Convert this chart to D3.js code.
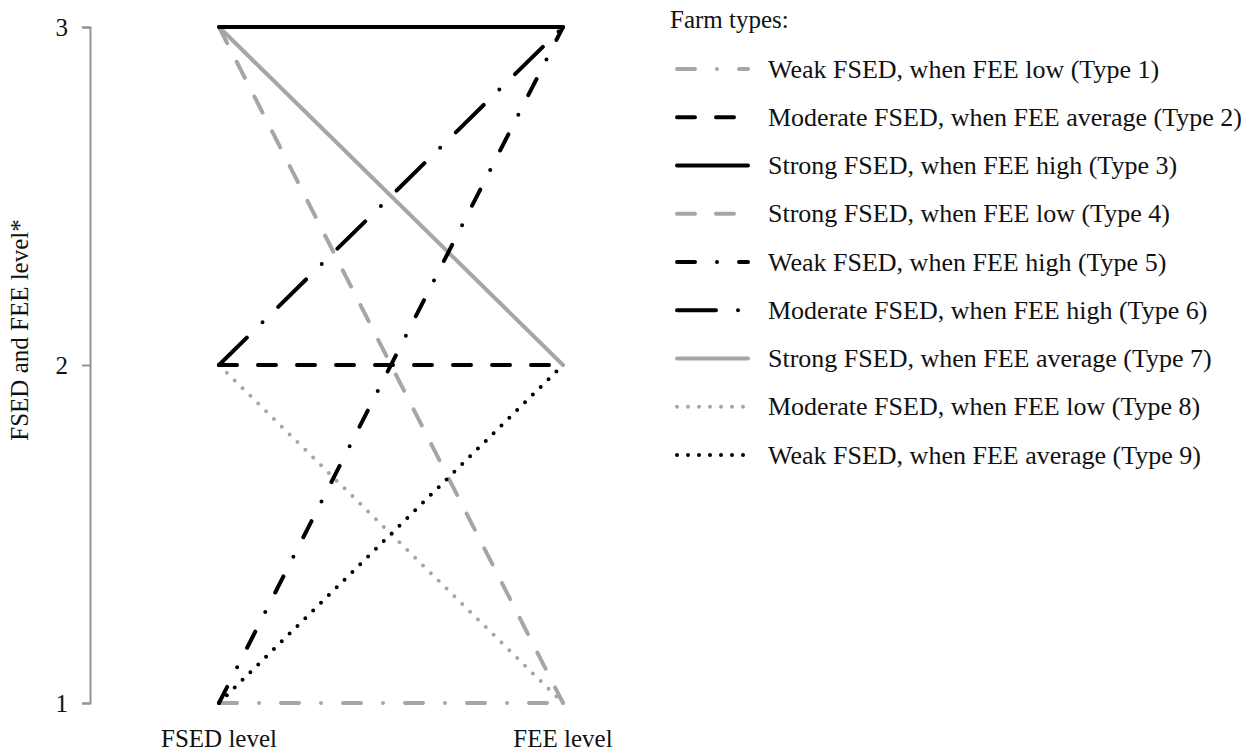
<!DOCTYPE html>
<html>
<head>
<meta charset="utf-8">
<script src="https://cdn.jsdelivr.net/npm/d3@7"></script>
<style>
  body { margin: 0; background: #fff; }
  text { font-family: "Liberation Serif", "DejaVu Serif", serif; fill: #111; }
</style>
</head>
<body>
<svg id="chart" width="1253" height="753"></svg>
<script>
// data
var typeNames = [
  "Weak FSED, when FEE low (Type 1)",
  "Moderate FSED, when FEE average (Type 2)",
  "Strong FSED, when FEE high (Type 3)",
  "Strong FSED, when FEE low (Type 4)",
  "Weak FSED, when FEE high (Type 5)",
  "Moderate FSED, when FEE high (Type 6)",
  "Strong FSED, when FEE average (Type 7)",
  "Moderate FSED, when FEE low (Type 8)",
  "Weak FSED, when FEE average (Type 9)"
];
var fsedLevel = [1, 2, 3, 3, 1, 2, 3, 2, 1];
var feeLevel  = [1, 2, 3, 1, 3, 3, 2, 1, 2];
var axisNames = ["FSED level", "FEE level"];
var yTicks = [1, 2, 3];

// styles per type
var gray = "#a6a6a6", black = "#000";
var lineColor = [gray, black, black, gray, black, black, gray, gray, black];
var lineDash = ["18,22,0,22", "18,21", null, "18,21", "18,22,0,22", "39,22,0,22", null, "0,11", "0,11"];

var svg = d3.select("#chart");

var x = d3.scalePoint().domain(axisNames).range([219, 563]);
var y = d3.scaleLinear().domain([1, 3]).range([703, 27]);

// y axis
var yAxis = svg.append("g")
    .attr("transform", "translate(90,0)")
    .call(d3.axisLeft(y).tickValues(yTicks).tickFormat(d3.format("d")).tickSize(8).tickPadding(14));
yAxis.selectAll("path, line").attr("stroke", "#929292").attr("stroke-width", 2);
yAxis.selectAll("text").style("font-size", "25px").attr("font-family", null).attr("fill", "#111");

svg.append("text")
    .attr("transform", "translate(28,330) rotate(-90)")
    .attr("text-anchor", "middle")
    .style("font-size", "25px")
    .text("FSED and FEE level*");

// category labels
svg.selectAll(".xlab")
  .data(axisNames)
  .enter().append("text")
    .attr("class", "xlab")
    .attr("x", function(d) { return x(d); })
    .attr("y", 747)
    .attr("text-anchor", "middle")
    .style("font-size", "25px")
    .text(function(d) { return d; });

// lines
var rows = typeNames.map(function(name, i) {
  return {name: name, a: fsedLevel[i], b: feeLevel[i], i: i};
});

var drawOrder = [6, 3, 7, 0, 8, 4, 5, 1, 2];
svg.append("g").selectAll("line")
  .data(drawOrder.map(function(k) { return rows[k]; }))
  .enter().append("line")
    .attr("x1", x(axisNames[0]))
    .attr("x2", x(axisNames[1]))
    .attr("y1", function(d) { return y(d.a); })
    .attr("y2", function(d) { return y(d.b); })
    .attr("stroke", function(d) { return lineColor[d.i]; })
    .attr("stroke-dasharray", function(d) { return lineDash[d.i]; })
    .attr("stroke-width", 4)
    .attr("stroke-linecap", "round");

// legend
var legend = svg.append("g").attr("transform", "translate(665,0)");
legend.append("text")
    .attr("x", 5)
    .attr("y", 28)
    .style("font-size", "25px")
    .text("Farm types:");

var ly = d3.scalePoint().domain(d3.range(typeNames.length)).range([69, 455]);
var item = legend.selectAll(".item")
  .data(rows)
  .enter().append("g")
    .attr("class", "item")
    .attr("transform", function(d) { return "translate(0," + ly(d.i) + ")"; });

item.append("line")
    .attr("x1", 12).attr("x2", 83)
    .attr("stroke", function(d) { return lineColor[d.i]; })
    .attr("stroke-dasharray", function(d) { return lineDash[d.i]; })
    .attr("stroke-width", 4)
    .attr("stroke-linecap", "round");

item.append("text")
    .attr("x", 103)
    .attr("dy", "0.33em")
    .style("font-size", "26px")
    .text(function(d) { return d.name; });
</script>
</body>
</html>
